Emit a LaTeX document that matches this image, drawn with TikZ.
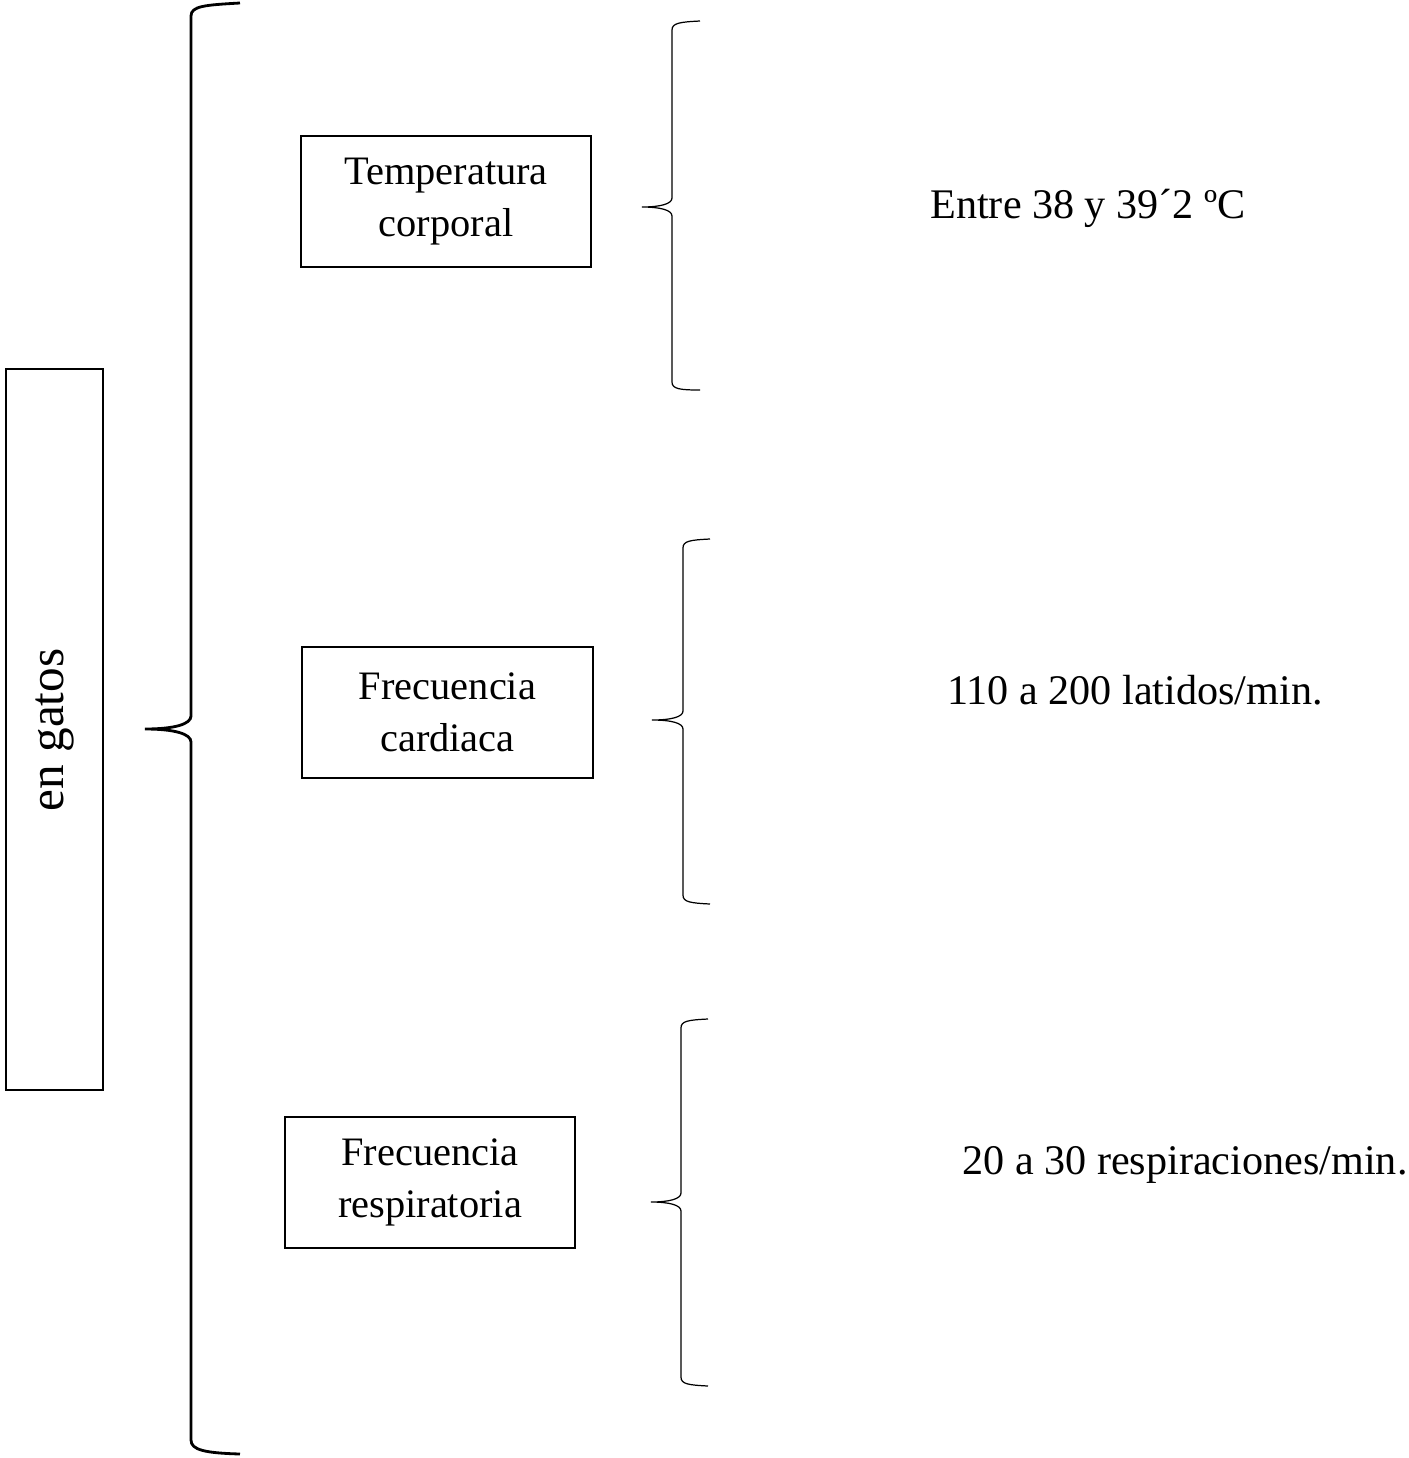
\documentclass[tikz,border=0pt]{standalone}
\usepackage{fontspec}
\setmainfont{Liberation Serif}
\usepackage{tikz}

\begin{document}
\begin{tikzpicture}[x=0.02cm, y=-0.02cm,
  every node/.style={font=\fontsize{23}{29.5}\selectfont, align=center},
  box/.style={draw, line width=0.8pt, inner sep=0pt},
  brace/.style={draw, line width=0.7pt},
  bigbrace/.style={draw, line width=1.6pt}]
  \useasboundingbox (0,0) rectangle (1409,1458);
  \node [box, minimum width=1.94cm, minimum height=14.42cm] (gatos) at (54.5, 729.5) {};
  \node [rotate=90, font=\fontsize{28}{34}\selectfont] (gatostxt) at (54.5, 730) {en gatos};
  \node [box, minimum width=5.8cm, minimum height=2.62cm] (temp) at (446, 201.5) {Temperatura\\corporal};
  \node [box, minimum width=5.82cm, minimum height=2.62cm] (card) at (447.5, 712.5) {Frecuencia\\cardiaca};
  \node [box, minimum width=5.8cm, minimum height=2.62cm] (resp) at (430, 1182.5) {Frecuencia\\respiratoria};
  \node [font=\fontsize{24}{29}\selectfont] (tempval) at (1088, 208) {Entre 38 y 39´2 ºC};
  \node [font=\fontsize{24}{29}\selectfont] (cardval) at (1135, 690) {110 a 200 latidos/min.};
  \node [font=\fontsize{24}{29}\selectfont] (respval) at (1185, 1165) {20 a 30 respiraciones/min.};
  \draw [bigbrace] (240,3) .. controls (205,5) and (191,6) .. (191,16) -- (191,716)
    .. controls (191,724) and (175,729) .. (145,729)
    .. controls (175,729) and (191,734) .. (191,742) -- (191,1440)
    .. controls (191,1450) and (205,1453) .. (240,1454);
  \draw [brace] (700,21) .. controls (680,22) and (672,23) .. (672,30) -- (672,198)
    .. controls (672,204) and (660,207) .. (642,207)
    .. controls (660,207) and (672,210) .. (672,216) -- (672,382)
    .. controls (672,389) and (680,390) .. (700,390);
  \draw [brace] (710,539) .. controls (690,540) and (683,541) .. (683,548) -- (683,711)
    .. controls (683,717) and (671,720) .. (652,720)
    .. controls (671,720) and (683,723) .. (683,729) -- (683,895)
    .. controls (683,902) and (690,903) .. (710,904);
  \draw [brace] (708,1019) .. controls (688,1020) and (681,1021) .. (681,1028) -- (681,1193)
    .. controls (681,1199) and (669,1202) .. (651,1202)
    .. controls (669,1202) and (681,1205) .. (681,1211) -- (681,1377)
    .. controls (681,1384) and (688,1385) .. (708,1386);
\end{tikzpicture}
\end{document}
